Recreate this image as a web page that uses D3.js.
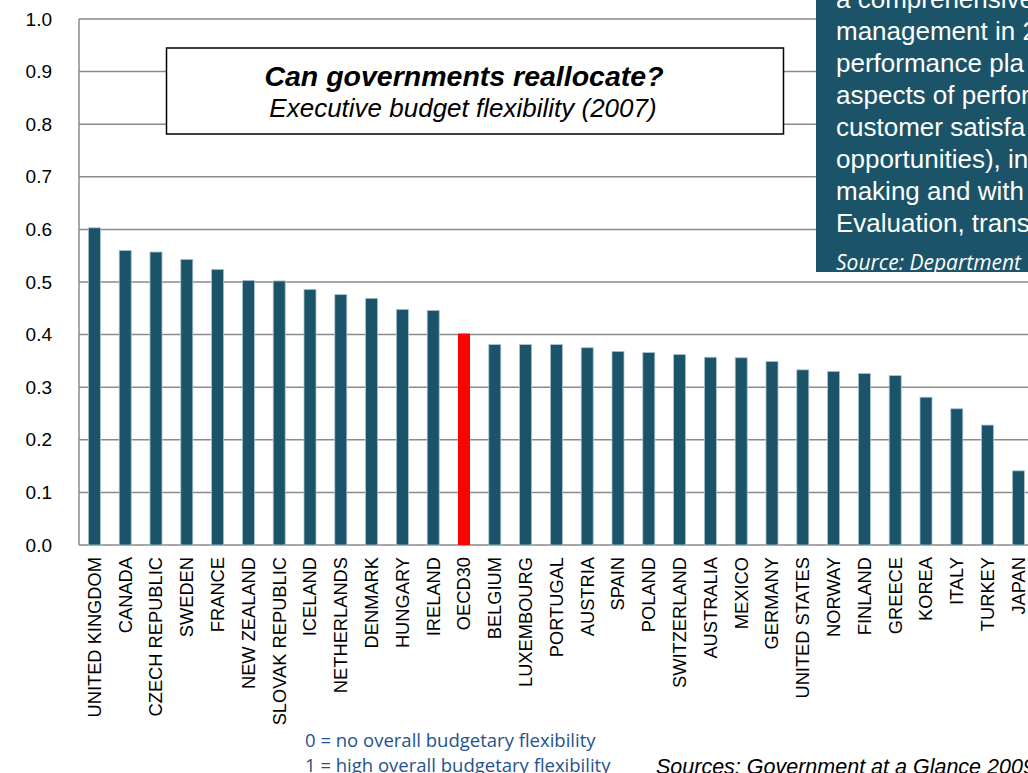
<!DOCTYPE html>
<html>
<head>
<meta charset="utf-8">
<script src="https://cdn.jsdelivr.net/npm/d3@7"></script>
<style>
  body { margin: 0; background: #fff; }
  svg { display: block; }
</style>
</head>
<body>
<div id="chart"></div>
<script>
// Data
const countries = ['UNITED KINGDOM', 'CANADA', 'CZECH REPUBLIC', 'SWEDEN', 'FRANCE', 'NEW ZEALAND',
  'SLOVAK REPUBLIC', 'ICELAND', 'NETHERLANDS', 'DENMARK', 'HUNGARY', 'IRELAND', 'OECD30',
  'BELGIUM', 'LUXEMBOURG', 'PORTUGAL', 'AUSTRIA', 'SPAIN', 'POLAND', 'SWITZERLAND', 'AUSTRALIA',
  'MEXICO', 'GERMANY', 'UNITED STATES', 'NORWAY', 'FINLAND', 'GREECE', 'KOREA', 'ITALY', 'TURKEY', 'JAPAN'];
const flexibility = [0.603, 0.560, 0.557, 0.543, 0.524, 0.503, 0.502, 0.486, 0.476, 0.469, 0.448, 0.446, 0.402,
  0.381, 0.381, 0.381, 0.375, 0.368, 0.366, 0.362, 0.357, 0.356, 0.349, 0.333, 0.330, 0.326, 0.322, 0.281,
  0.259, 0.228, 0.141];
const yTicks = [0, 0.1, 0.2, 0.3, 0.4, 0.5, 0.6, 0.7, 0.8, 0.9, 1.0];
const highlight = 'OECD30';

const noteLines = ['a comprehensive', 'management in 2', 'performance pla', 'aspects of perfor',
  'customer satisfa', 'opportunities), in', 'making and with', 'Evaluation, trans'];
const noteSource = 'Source: Department';
const legendLines = ['0 = no overall budgetary flexibility', '1 = high overall budgetary flexibility'];

const width = 1028, height = 773;
const margin = { top: 19, left: 79, bottom: 228 };
const plotRight = 79 + 31 * 30.8;
const barColor = '#1b5468';

const svg = d3.select('#chart').append('svg')
  .attr('width', width)
  .attr('height', height);

const x = d3.scaleBand()
  .domain(countries)
  .range([margin.left, plotRight])
  .paddingInner(0.61)
  .paddingOuter(0.305);

const y = d3.scaleLinear()
  .domain([0, 1])
  .range([height - margin.bottom, margin.top]);

// Gridlines
svg.append('g')
  .selectAll('line')
  .data(yTicks)
  .enter()
  .append('line')
  .attr('x1', margin.left)
  .attr('x2', plotRight)
  .attr('y1', d => y(d))
  .attr('y2', d => y(d))
  .attr('stroke', '#8a8a8a')
  .attr('stroke-width', 1.5);

// Left axis line
svg.append('line')
  .attr('x1', margin.left).attr('x2', margin.left)
  .attr('y1', y(1)).attr('y2', y(0))
  .attr('stroke', '#8a8a8a')
  .attr('stroke-width', 1.5);

// Y tick labels
svg.append('g')
  .selectAll('text')
  .data(yTicks)
  .enter()
  .append('text')
  .attr('x', 52)
  .attr('y', d => y(d))
  .attr('dy', '0.35em')
  .attr('text-anchor', 'end')
  .style('font-family', 'Liberation Sans, Arial, sans-serif')
  .style('font-size', '19px')
  .style('fill', '#000')
  .text(d => d.toFixed(1));

// Bars
svg.append('g')
  .selectAll('rect')
  .data(countries)
  .enter()
  .append('rect')
  .attr('x', d => x(d))
  .attr('width', x.bandwidth())
  .attr('y', (d, i) => y(flexibility[i]))
  .attr('height', (d, i) => y(0) - y(flexibility[i]))
  .attr('fill', d => d === highlight ? '#ff0000' : barColor)
  .attr('stroke', d => d === highlight ? 'none' : '#a8c4d2')
  .attr('stroke-width', 0.8);

// X labels (rotated)
svg.append('g')
  .selectAll('text')
  .data(countries)
  .enter()
  .append('text')
  .attr('transform', d => `translate(${x(d) + x.bandwidth() / 2},557) rotate(-90)`)
  .attr('dy', '0.35em')
  .attr('text-anchor', 'end')
  .style('font-family', 'Liberation Sans, Arial, sans-serif')
  .style('font-size', '18.3px')
  .style('fill', '#000')
  .text(d => d);

// Title box
svg.append('rect')
  .attr('x', 166.5).attr('y', 48)
  .attr('width', 617).attr('height', 86)
  .attr('fill', '#fff')
  .attr('stroke', '#000')
  .attr('stroke-width', 1.5);

svg.append('text')
  .attr('x', 464).attr('y', 86)
  .attr('text-anchor', 'middle')
  .style('font-family', 'Liberation Sans, Arial, sans-serif')
  .style('font-size', '28.5px')
  .style('font-weight', 'bold')
  .style('font-style', 'italic')
  .text('Can governments reallocate?');

svg.append('text')
  .attr('x', 463).attr('y', 117)
  .attr('text-anchor', 'middle')
  .style('font-family', 'Liberation Sans, Arial, sans-serif')
  .style('font-size', '26px')
  .style('font-style', 'italic')
  .text('Executive budget flexibility (2007)');

// Note box at top right (cut off by the slide edge)
svg.append('rect')
  .attr('x', 816).attr('y', 0)
  .attr('width', width - 816).attr('height', 272)
  .attr('fill', barColor);

svg.append('g')
  .selectAll('text')
  .data(noteLines)
  .enter()
  .append('text')
  .attr('x', 836)
  .attr('y', (d, i) => 8 + i * 32)
  .style('font-family', 'Liberation Sans, Arial, sans-serif')
  .style('font-size', '26px')
  .style('fill', '#fff')
  .text(d => d);

svg.append('text')
  .attr('x', 836).attr('y', 270)
  .style('font-family', 'Open Sans, sans-serif')
  .style('font-size', '21px')
  .style('font-style', 'italic')
  .style('fill', '#fff')
  .text(noteSource);

// Scale legend
svg.append('g')
  .selectAll('text')
  .data(legendLines)
  .enter()
  .append('text')
  .attr('x', 305)
  .attr('y', (d, i) => 741 + i * 25)
  .attr('dy', '0.35em')
  .style('font-family', 'Open Sans, sans-serif')
  .style('font-size', '18.5px')
  .style('fill', '#24528f')
  .text(d => d);

svg.append('text')
  .attr('x', 656).attr('y', 774)
  .style('font-family', 'Liberation Sans, Arial, sans-serif')
  .style('font-size', '21.5px')
  .style('font-style', 'italic')
  .text('Sources: Government at a Glance 2009');
</script>
</body>
</html>
